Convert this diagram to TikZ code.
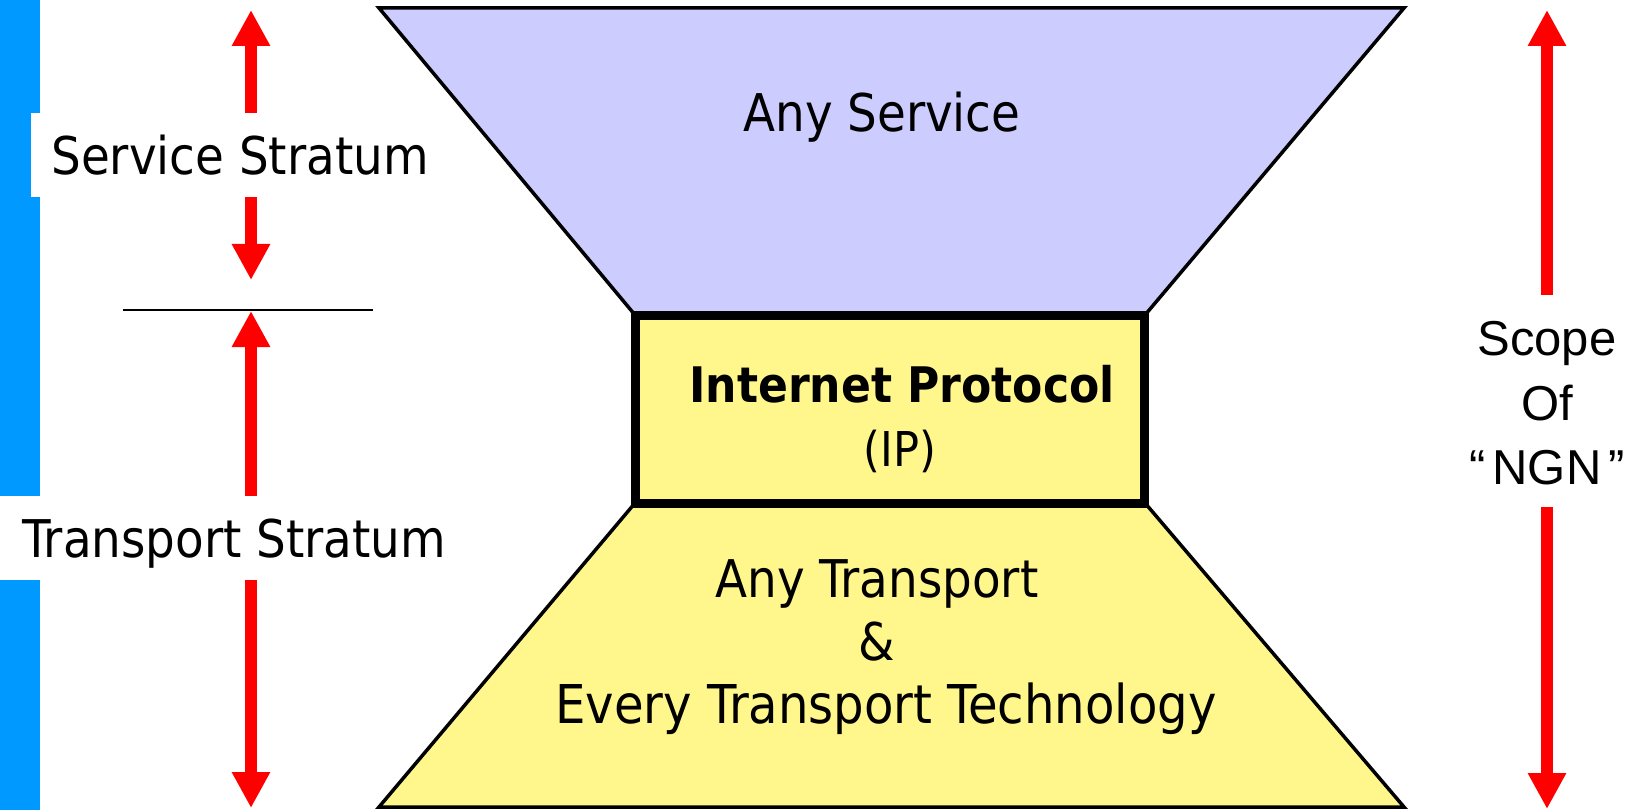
\documentclass[tikz,border=0pt]{standalone}
\usepackage{fontspec}
\setmainfont{DejaVu Sans Condensed}
\newfontfamily\arialf{Liberation Sans}
\usetikzlibrary{arrows.meta}
\definecolor{barblue}{RGB}{0,153,255}
\definecolor{svcfill}{RGB}{204,204,255}
\definecolor{ipyellow}{RGB}{255,247,140}
\tikzset{
  lbl/.style={font=\fontsize{52}{62}\selectfont, inner sep=0pt},
  sclbl/.style={font=\arialf\fontsize{49}{60}\selectfont, inner sep=0pt},
  iplbl/.style={font=\bfseries\fontsize{49}{60}\selectfont, inner sep=0pt},
  ipsub/.style={font=\fontsize{48}{58}\selectfont, inner sep=0pt},
  redarr/.style={draw=red, line width=12pt, -{Triangle[width=36pt,length=36pt]}},
  shapeline/.style={draw=black, line width=3.5pt, line join=miter},
}
\begin{document}
\begin{tikzpicture}[x=1pt,y=-1pt]
\useasboundingbox (0,0) rectangle (1637,810);
% blue bar
\fill[barblue] (0,0) rectangle (40,810);
% shapes
\filldraw[shapeline, fill=ipyellow] (635,503) -- (1145,503) -- (1404,807) -- (379,807) -- cycle;
\filldraw[shapeline, fill=svcfill] (379,8) -- (1404,8) -- (1145,315) -- (635,315) -- cycle;
\filldraw[fill=ipyellow, draw=black, line width=9pt] (635.5,315) rectangle (1144.5,503.5);
% left labels
\node[lbl, fill=white, anchor=base, text height=62pt, text depth=22pt, minimum width=418pt] (svc) at (240,175) {Service Stratum};
\node[lbl, fill=white, anchor=base, text height=61pt, text depth=23pt, minimum width=469pt] (trp) at (234.5,557) {Transport Stratum};
% divider
\coordinate (d1) at (123,310);
\coordinate (d2) at (373,310);
\draw[line width=2.5pt] (d1) -- (d2);
% left arrows
\coordinate (t1) at (251,10);
\coordinate (t2) at (251,280);
\coordinate (t3) at (251,311);
\coordinate (t4) at (251,808);
\draw[redarr] (svc.north -| t1) -- (t1);
\draw[redarr] (svc.south -| t2) -- (t2);
\draw[redarr] (trp.north -| t3) -- (t3);
\draw[redarr] (trp.south -| t4) -- (t4);
% right label
\node[sclbl, anchor=base] (sc1) at (1547,355) {Scope};
\node[sclbl, anchor=base] (sc2) at (1547,420) {Of};
\node[sclbl, anchor=base] (sc3) at (1547,484) {“\kern7pt NGN\kern7pt”};
\coordinate (s1) at (1547,295);
\coordinate (s1t) at (1547,10);
\coordinate (s2) at (1547,507);
\coordinate (s2t) at (1547,809);
\draw[redarr] (s1) -- (s1t);
\draw[redarr] (s2) -- (s2t);
% inner texts
\node[lbl, anchor=base] (anysvc) at (882,132) {Any Service};
\node[iplbl, anchor=base] (ip1) at (902,402) {Internet Protocol};
\node[ipsub, anchor=base] (ip2) at (900,466) {(IP)};
\node[lbl, anchor=base] (tr1) at (877,597) {Any Transport};
\node[lbl, anchor=base] (tr2) at (877,660) {\&};
\node[lbl, font=\fontsize{53.5}{62}\selectfont, anchor=base] (tr3) at (886,723) {Every Transport Technology};
\end{tikzpicture}
\end{document}
